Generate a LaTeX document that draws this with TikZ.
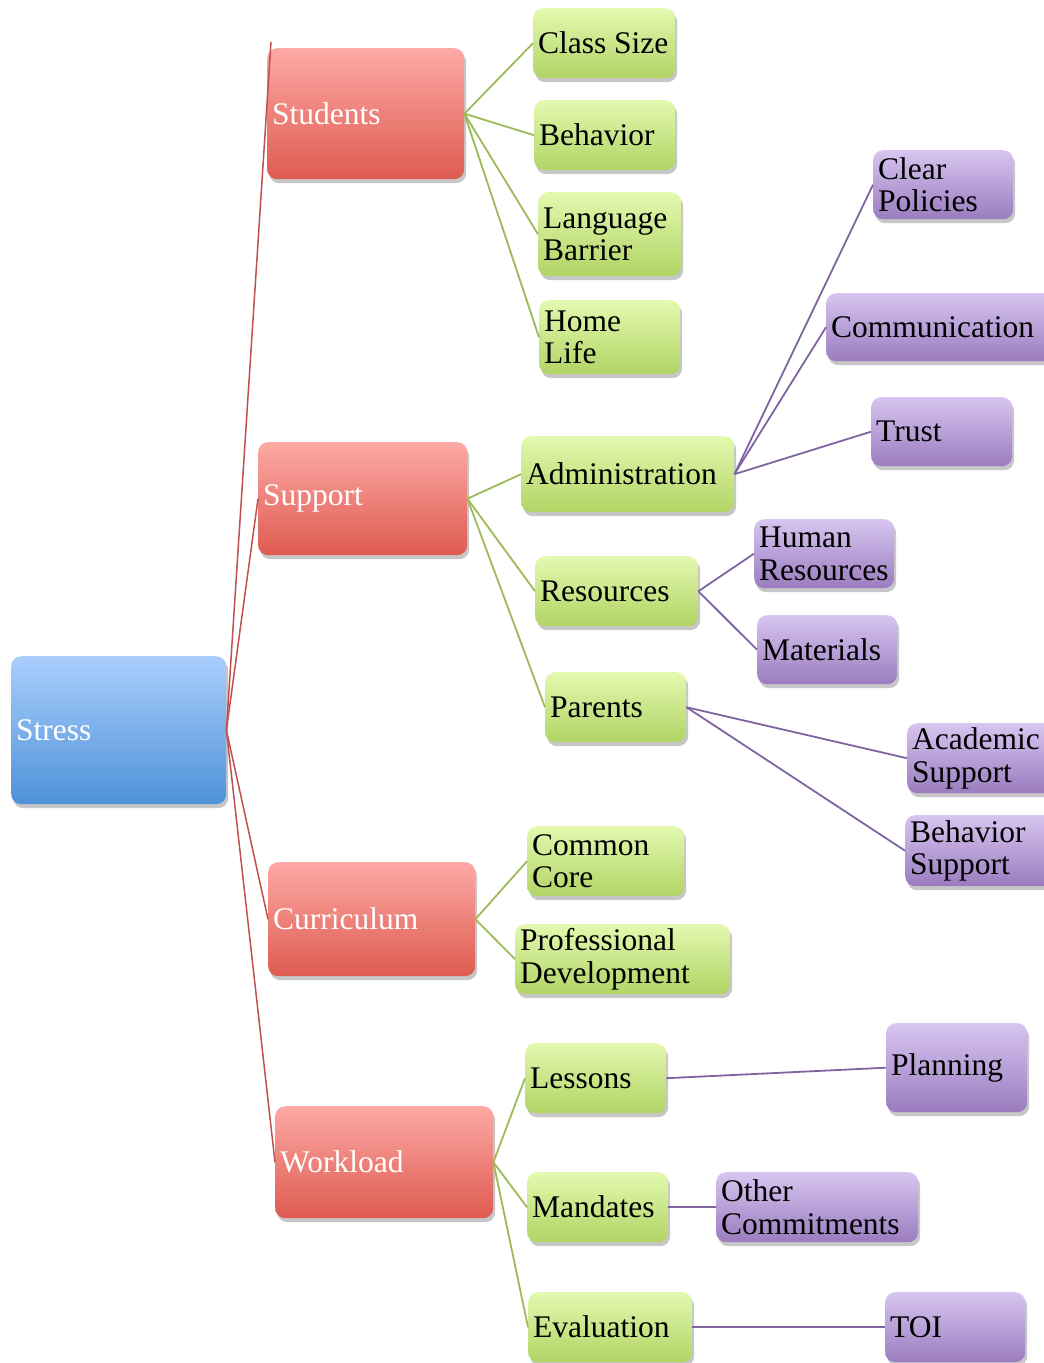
\documentclass[tikz,border=0pt]{standalone}
\usepackage{fontspec}
\setmainfont{Liberation Serif}
\usetikzlibrary{shadows}
\definecolor{redline}{HTML}{C0504D}
\definecolor{greenline}{HTML}{9BBB59}
\definecolor{purpleline}{HTML}{8064A2}
\definecolor{bluetop}{HTML}{AACEFD}
\definecolor{bluebot}{HTML}{4E92D8}
\definecolor{redtop}{HTML}{FDA9A5}
\definecolor{redbot}{HTML}{DE5B50}
\definecolor{greentop}{HTML}{E3F9AF}
\definecolor{greenbot}{HTML}{B1D465}
\definecolor{purptop}{HTML}{D8C5F0}
\definecolor{purpbot}{HTML}{9A7CBF}
\tikzset{
  boxbase/.style={rounded corners=10pt, inner xsep=5pt, inner ysep=0pt, align=left,
    font=\fontsize{31.5}{32.5}\selectfont,
    drop shadow={shadow xshift=2pt, shadow yshift=-4pt, opacity=0.22, fill=black}},
  bluebox/.style={boxbase, top color=bluetop, bottom color=bluebot, text=white},
  redbox/.style={boxbase, top color=redtop, bottom color=redbot, text=white},
  greenbox/.style={boxbase, top color=greentop, bottom color=greenbot, text=black},
  purplebox/.style={boxbase, top color=purptop, bottom color=purpbot, text=black},
  redconn/.style={draw=redline, line width=1.5pt},
  greenconn/.style={draw=greenline, line width=1.8pt},
  purpleconn/.style={draw=purpleline, line width=1.8pt},
}
\newcommand{\mybx}[7]{\node[#1, anchor=north west, minimum width=#5pt, minimum height=#6pt,
  text width=\the\numexpr#5-10\relax pt] (#2) at (#3,#4) {#7};}
\begin{document}
\begin{tikzpicture}[x=1pt,y=-1pt]
\useasboundingbox (0,0) rectangle (1044,1363);
% level 0
\mybx{bluebox}{stress}{11}{656}{215}{148}{Stress}
% level 1
\mybx{redbox}{students}{267}{48}{197}{131}{Students}
\mybx{redbox}{support}{258}{442}{209}{113}{Support}
\mybx{redbox}{curriculum}{268}{862}{207}{114}{Curriculum}
\mybx{redbox}{workload}{275}{1106}{218}{112}{Workload}
% level 2
\mybx{greenbox}{classsize}{533}{8}{142}{70}{Class\kern0.24em Size}
\mybx{greenbox}{behavior}{534}{100}{141}{70}{Behavior}
\mybx{greenbox}{language}{538}{192}{143}{84}{Language\\Barrier}
\mybx{greenbox}{home}{539}{300}{141}{74}{Home\\Life}
\mybx{greenbox}{admin}{521}{436}{213}{76}{Administration}
\mybx{greenbox}{resources}{535}{556}{163}{70}{Resources}
\mybx{greenbox}{parents}{545}{672}{141}{70}{Parents}
\mybx{greenbox}{common}{527}{826}{157}{70}{Common\\Core}
\mybx{greenbox}{profdev}{515}{924}{215}{70}{Professional\\Development}
\mybx{greenbox}{lessons}{525}{1043}{141}{70}{Lessons}
\mybx{greenbox}{mandates}{527}{1172}{141}{70}{Mandates}
\mybx{greenbox}{evaluation}{528}{1292}{164}{70}{Evaluation}
% level 3
\mybx{purplebox}{policies}{873}{150}{140}{69}{Clear\\Policies}
\mybx{purplebox}{comm}{826}{293}{230}{68}{Communication}
\mybx{purplebox}{trust}{871}{397}{141}{69}{Trust}
\mybx{purplebox}{human}{754}{519}{140}{69}{Human\\Resources}
\mybx{purplebox}{materials}{757}{615}{140}{69}{Materials}
\mybx{purplebox}{academic}{907}{723}{150}{70}{Academic\\Support}
\mybx{purplebox}{behsupport}{905}{815}{152}{71}{Behavior\\Support}
\mybx{purplebox}{planning}{886}{1023}{141}{89}{Planning}
\mybx{purplebox}{other}{716}{1172}{202}{70}{Other\\Commitments}
\mybx{purplebox}{toi}{885}{1292}{140}{70}{TOI}
% connectors
\coordinate (stutop) at (271,42);
\draw[redconn] (stress.east) -- (stutop);
\draw[redconn] (stress.east) -- (support.west);
\draw[redconn] (stress.east) -- (curriculum.west);
\draw[redconn] (stress.east) -- (workload.west);
\foreach \c in {classsize,behavior,language,home}
  \draw[greenconn] (students.east) -- (\c.west);
\foreach \c in {admin,resources,parents}
  \draw[greenconn] (support.east) -- (\c.west);
\foreach \c in {common,profdev}
  \draw[greenconn] (curriculum.east) -- (\c.west);
\foreach \c in {lessons,mandates,evaluation}
  \draw[greenconn] (workload.east) -- (\c.west);
\foreach \c in {policies,comm,trust}
  \draw[purpleconn] (admin.east) -- (\c.west);
\foreach \c in {human,materials}
  \draw[purpleconn] (resources.east) -- (\c.west);
\foreach \c in {academic,behsupport}
  \draw[purpleconn] (parents.east) -- (\c.west);
\draw[purpleconn] (lessons.east) -- (planning.west);
\draw[purpleconn] (mandates.east) -- (other.west);
\draw[purpleconn] (evaluation.east) -- (toi.west);
\end{tikzpicture}
\end{document}
